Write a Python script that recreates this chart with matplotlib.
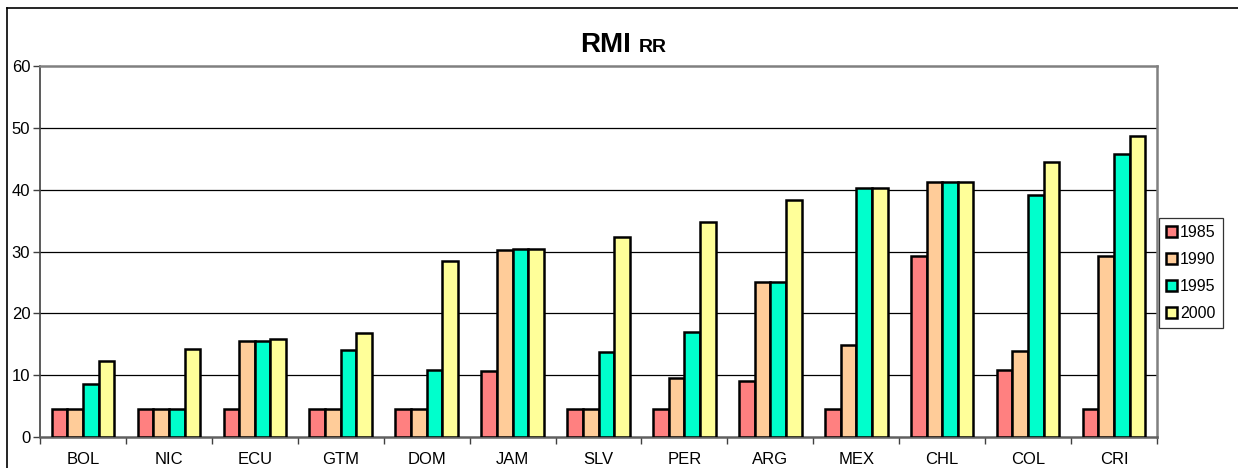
import matplotlib.pyplot as plt
from matplotlib.lines import Line2D
from matplotlib.patches import Patch
import numpy as np

plt.rcParams['font.family'] = ['Liberation Sans', 'DejaVu Sans']

countries = ["BOL", "NIC", "ECU", "GTM", "DOM", "JAM", "SLV",
             "PER", "ARG", "MEX", "CHL", "COL", "CRI"]
years = ["1985", "1990", "1995", "2000"]
v1985 = [4.5, 4.5, 4.5, 4.5, 4.5, 10.7, 4.5, 4.5, 9.0, 4.5, 29.2, 10.9, 4.5]
v1990 = [4.5, 4.5, 15.6, 4.5, 4.5, 30.3, 4.5, 9.6, 25.1, 14.9, 41.3, 13.9, 29.2]
v1995 = [8.6, 4.5, 15.6, 14.0, 10.9, 30.4, 13.7, 17.0, 25.1, 40.2, 41.3, 39.2, 45.7]
v2000 = [12.3, 14.3, 15.9, 16.9, 28.4, 30.4, 32.4, 34.8, 38.4, 40.2, 41.3, 44.4, 48.7]
series = [v1985, v1990, v1995, v2000]
colors = ["#FF8080", "#FFCC99", "#00FFCC", "#FFFF99"]

fig = plt.figure(figsize=(12.38, 4.68), dpi=100)
ax = fig.add_axes([40 / 1238, 1 - 437 / 468, 1117 / 1238, 371 / 468])

x = np.arange(len(countries)) + 0.5
w = 0.182
for k, vals in enumerate(series):
    ax.bar(x + (k - 1.5) * w, vals, width=w, color=colors[k],
           edgecolor="black", linewidth=1.8, zorder=3)

ax.set_xlim(0, len(countries))
ax.set_ylim(0, 60)
ax.set_yticks(range(0, 61, 10))
for yv in range(10, 60, 10):
    ax.axhline(yv, color="black", linewidth=0.9, zorder=1)

ax.set_xticks(np.arange(len(countries) + 1))
ax.set_xticklabels([])
ax.set_xticks(x, minor=True)
ax.set_xticklabels(countries, minor=True, fontsize=12)
ax.tick_params(axis="x", which="minor", length=0, pad=11)
ax.tick_params(axis="x", which="major", length=5, width=1, color="#404040")
ax.tick_params(axis="y", length=5, width=1, color="#404040", labelsize=12, pad=2)

for side in ["top", "right"]:
    ax.spines[side].set_color("#808080")
    ax.spines[side].set_linewidth(1.8)
ax.spines["left"].set_color("#404040")
ax.spines["left"].set_linewidth(1.2)
ax.spines["bottom"].set_color("#606060")
ax.spines["bottom"].set_linewidth(1.8)

# titles
fig.text(631 / 1238, 1 - 52 / 468, "RMI", ha="right", va="baseline",
         fontsize=20, fontweight="bold")
fig.text(639 / 1238, 1 - 52 / 468, "RR", ha="left", va="baseline",
         fontsize=14, fontweight="bold")

# outer chart frame
fig.add_artist(Line2D([7 / 1238, 7 / 1238], [0, 1 - 8 / 468],
                      transform=fig.transFigure, color="black", linewidth=1.2))
fig.add_artist(Line2D([7 / 1238, 1], [1 - 8 / 468, 1 - 8 / 468],
                      transform=fig.transFigure, color="black", linewidth=1.2))

handles = [Patch(facecolor=c, edgecolor="black", linewidth=1.8) for c in colors]
leg = fig.legend(handles, years, loc="center left",
                 bbox_to_anchor=(1159 / 1238, 1 - 273 / 468),
                 fontsize=11.5, frameon=True, fancybox=False,
                 handlelength=0.65, handleheight=0.65, handletextpad=0.2,
                 labelspacing=0.75, borderpad=0.45, borderaxespad=0)
leg.get_frame().set_edgecolor("black")
leg.get_frame().set_linewidth(0.9)

plt.savefig("out.png", dpi=100)
